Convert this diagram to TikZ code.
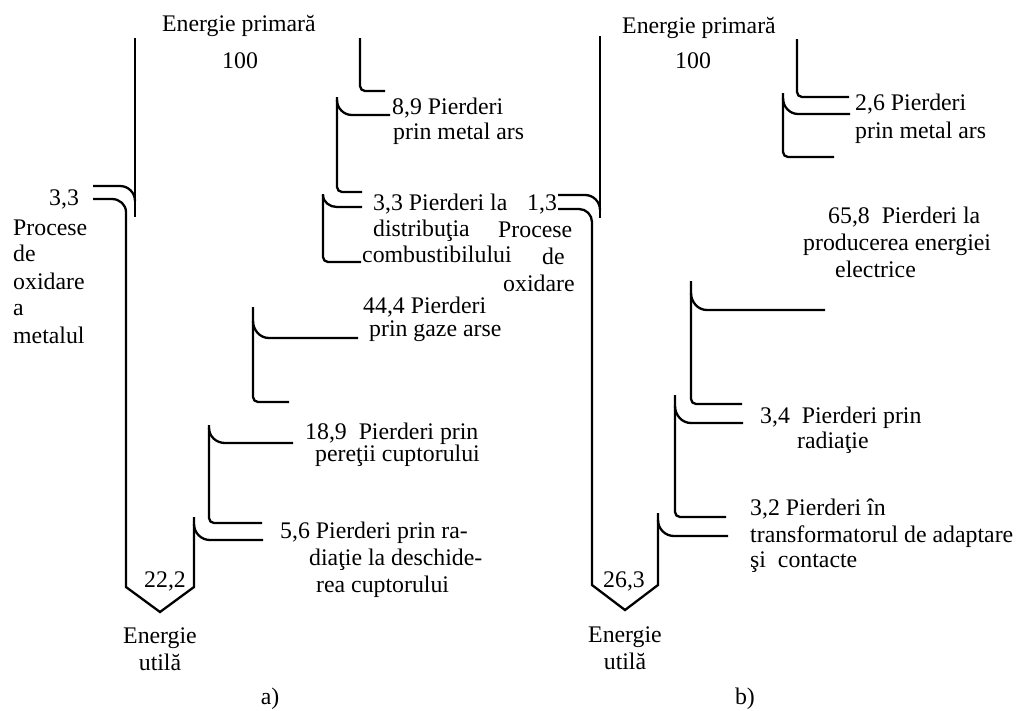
\documentclass[tikz,border=0pt]{standalone}
\usepackage{fontspec}
\setmainfont{Liberation Serif}
\begin{document}
\begin{tikzpicture}[x=1pt,y=-1pt,
  flow/.style={line width=2.3pt, line join=miter},
  corner/.style={flow, rounded corners=5pt},
  lbl/.style={anchor=base west, inner sep=0pt, font=\fontsize{23.8}{27}\selectfont},
  lblc/.style={anchor=base, inner sep=0pt, font=\fontsize{23.8}{27}\selectfont}]
\useasboundingbox (0,0) rectangle (1022,710);

% ================= panel a =================
% main stream and oxidation arrow
\draw[flow] (135,38) -- (135,217);
\draw[flow] (93,186) -- (120,186) to[out=0,in=90] (135,201);
\draw[flow] (93,199) -- (112,199) to[out=0,in=90] (126,212) -- (126,587) -- (160,612) -- (194,587) -- (194,517);
% branch off the right edge of the useful-energy arrow
\draw[flow] (194,524) to[out=-90,in=180] (210,540) -- (263,540);
% 18,9 bracket
\draw[corner] (209,425) -- (209,523) -- (262,523);
\draw[flow] (209,428) to[out=-90,in=180] (225,443) -- (293,443);
% 44,4 bracket
\draw[corner] (253,307) -- (253,402) -- (289,402);
\draw[flow] (253,321) to[out=-90,in=180] (269,338) -- (358,338);
% 3,3 distribution bracket
\draw[corner] (323,194) -- (323,262) -- (361,262);
\draw[flow] (323,195) to[out=-90,in=180] (337,207) -- (362,207);
% 8,9 bracket
\draw[corner] (337,97) -- (337,192) -- (362,192);
\draw[flow] (337,100) to[out=-90,in=180] (352,115) -- (390,115);
% top line
\draw[corner] (360,38) -- (360,91) -- (385,91);

% texts a
\node[lbl] (ea)  at (162,31) {Energie primară};
\node[lbl] (pa)  at (222,68) {100};
\node[lbl] (oxa) at (49,205) {3,3};
\node[lbl] (oa1) at (13,235) {Procese};
\node[lbl] (oa2) at (13,261) {de};
\node[lbl] (oa3) at (13,289) {oxidare};
\node[lbl] (oa4) at (13,315) {a};
\node[lbl] (oa5) at (13,343) {metalul};
\node[lbl] (ma1) at (392,114) {8,9 Pierderi};
\node[lbl] (ma2) at (393,139) {prin metal ars};
\node[lbl] (da1) at (373,210) {3,3 Pierderi la};
\node[lbl] (da2) at (373,236) {distribuţia};
\node[lbl] (da3) at (362,262) {combustibilului};
\node[lbl] (ga1) at (363,313) {44,4 Pierderi};
\node[lbl] (ga2) at (369,336) {prin gaze arse};
\node[lbl] (pe1) at (305,439) {18,9~ Pierderi prin};
\node[lbl] (pe2) at (315,461) {pereţii cuptorului};
\node[lbl] (ra1) at (280,538) {5,6 Pierderi prin ra-};
\node[lbl] (ra2) at (309,565) {diaţie la deschide-};
\node[lbl] (ra3) at (316,592) {rea cuptorului};
\node[lbl] (ua)  at (144,587) {22,2};
\node[lblc] (eu1) at (160,643) {Energie};
\node[lblc] (eu2) at (160,670) {utilă};
\node[lblc] (capa) at (270,704) {a)};

% ================= panel b =================
\draw[flow] (600,36) -- (600,218);
\draw[flow] (558,195) -- (585,195) to[out=0,in=90] (600,210);
\draw[flow] (558,209) -- (579,209) to[out=0,in=90] (592,222) -- (592,585) -- (625,610) -- (658,585) -- (658,513);
\draw[flow] (658,520) to[out=-90,in=180] (674,536) -- (728,536);
% 3,4 bracket
\draw[corner] (675,395) -- (675,517) -- (726,517);
\draw[flow] (675,406) to[out=-90,in=180] (691,423) -- (743,423);
% 65,8 bracket
\draw[corner] (691,281) -- (691,404) -- (742,404);
\draw[flow] (691,293) to[out=-90,in=180] (707,310) -- (825,310);
% 2,6 bracket
\draw[corner] (783,93) -- (783,157) -- (834,157);
\draw[flow] (783,98) to[out=-90,in=180] (798,114) -- (850,114);
% top line
\draw[corner] (797,39) -- (797,97) -- (849,97);

% texts b
\node[lbl] (eb)  at (622,33) {Energie primară};
\node[lbl] (pb)  at (675,68) {100};
\node[lbl] (oxb) at (527,210) {1,3};
\node[lbl] (ob1) at (498,237) {Procese};
\node[lbl] (ob2) at (542,264) {de};
\node[lbl] (ob3) at (503,291) {oxidare};
\node[lbl] (mb1) at (855,110) {2,6 Pierderi};
\node[lbl] (mb2) at (855,138) {prin metal ars};
\node[lbl] (el1) at (828,223) {65,8~ Pierderi la};
\node[lbl] (el2) at (803,250) {producerea energiei};
\node[lbl] (el3) at (835,277) {electrice};
\node[lbl] (rb1) at (760,423) {3,4~ Pierderi prin};
\node[lbl] (rb2) at (797,448) {radiaţie};
\node[lbl] (tb1) at (750,515) {3,2 Pierderi în};
\node[lbl] (tb2) at (750,542) {transformatorul de adaptare};
\node[lbl] (tb3) at (750,567) {şi~ contacte};
\node[lbl] (ub)  at (603,587) {26,3};
\node[lblc] (ev1) at (625,642) {Energie};
\node[lblc] (ev2) at (625,669) {utilă};
\node[lblc] (capb) at (745,704) {b)};
\end{tikzpicture}
\end{document}
